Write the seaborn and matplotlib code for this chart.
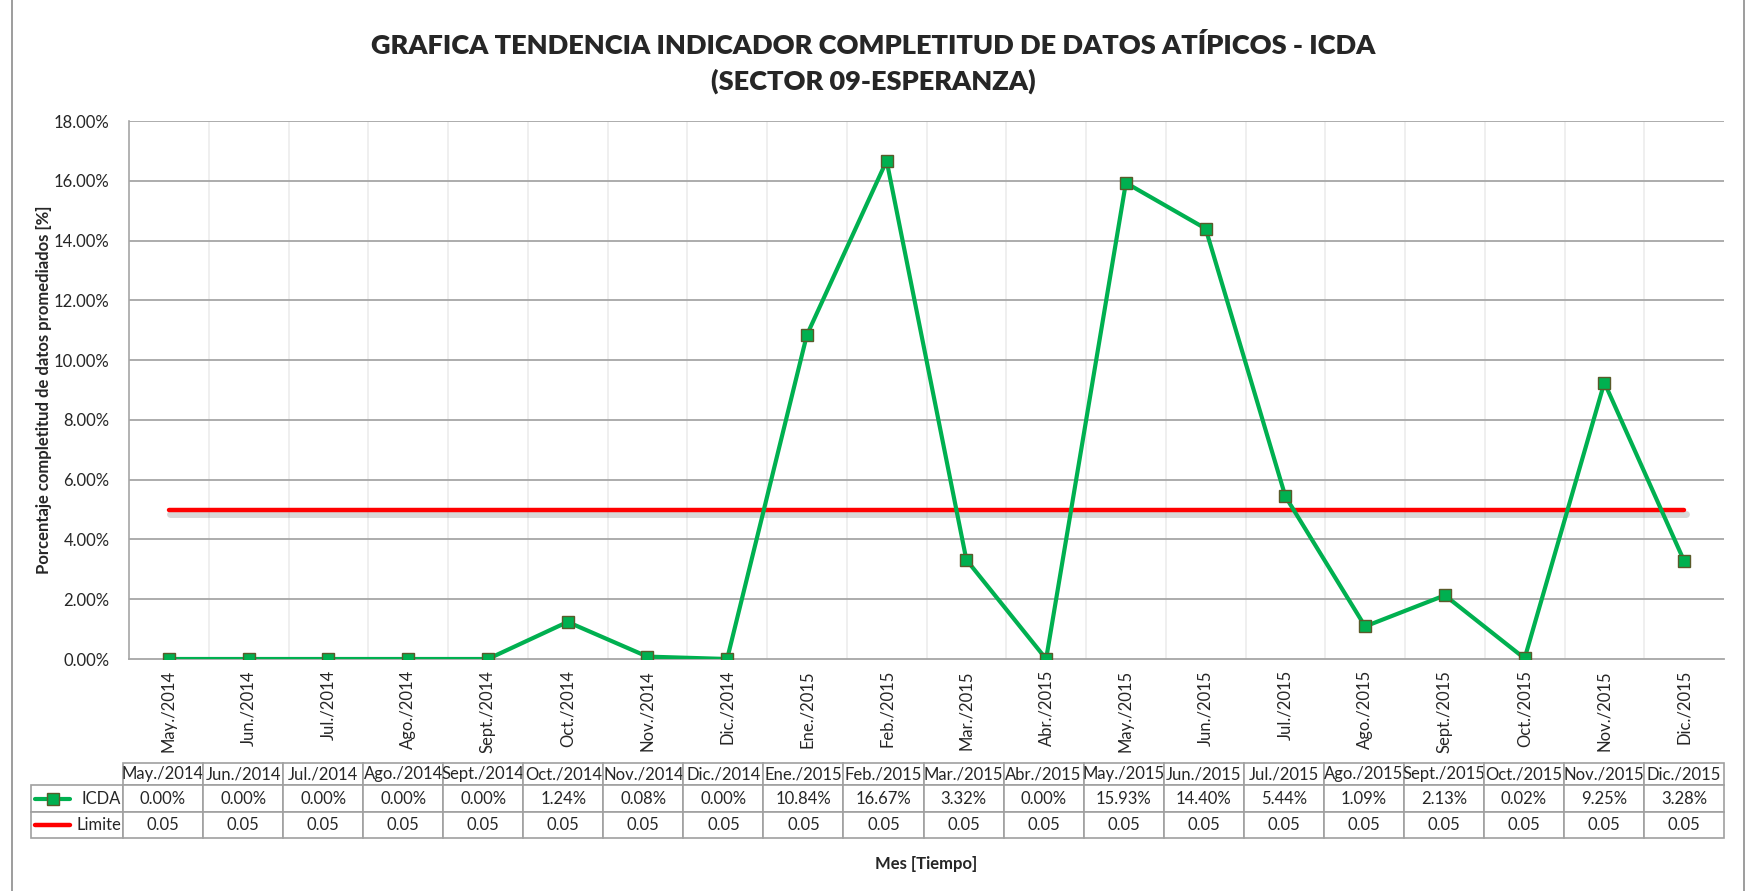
import numpy as np
import pandas as pd
import matplotlib.pyplot as plt
import seaborn as sns
from matplotlib import patheffects as pe
from matplotlib.lines import Line2D
from matplotlib.patches import Rectangle
from matplotlib.ticker import PercentFormatter

# Data
meses = ["May./2014", "Jun./2014", "Jul./2014", "Ago./2014", "Sept./2014", "Oct./2014",
         "Nov./2014", "Dic./2014", "Ene./2015", "Feb./2015", "Mar./2015", "Abr./2015",
         "May./2015", "Jun./2015", "Jul./2015", "Ago./2015", "Sept./2015", "Oct./2015",
         "Nov./2015", "Dic./2015"]
icda_pct = [0.00, 0.00, 0.00, 0.00, 0.00, 1.24, 0.08, 0.00, 10.84, 16.67, 3.32, 0.00,
            15.93, 14.40, 5.44, 1.09, 2.13, 0.02, 9.25, 3.28]
limite = [0.05] * 20

df = pd.DataFrame({
    "pos": np.arange(len(meses)),
    "mes": meses,
    "ICDA": np.array(icda_pct) / 100,
    "Limite": limite,
})

sns.set_style("white")
plt.rcParams["font.family"] = ["Lato", "DejaVu Sans"]

green = "#00b050"
red = "#ff0000"
grid_gray = "#a6a6a6"

fig = plt.figure(figsize=(17.46, 8.91), dpi=100)
ax = fig.add_axes([129 / 1746, 1 - 659 / 891, (1724 - 129) / 1746, (659 - 121) / 891])

sns.lineplot(data=df, x="pos", y="Limite", ax=ax, color=red, linewidth=3.2,
             path_effects=[pe.SimpleLineShadow(offset=(1, -3), shadow_color="gray", alpha=0.3,
                                               linewidth=5),
                           pe.Normal()], zorder=3)
sns.lineplot(data=df, x="pos", y="ICDA", ax=ax, color=green, linewidth=3.0,
             marker="s", markersize=8.5, markerfacecolor=green, markeredgecolor="#5a5a2a",
             markeredgewidth=1.0, zorder=4)

ax.set_xlim(-0.5, len(meses) - 0.5)
ax.set_ylim(0, 0.18)
ax.set_yticks(np.arange(0, 0.181, 0.02))
ax.yaxis.set_major_formatter(PercentFormatter(xmax=1, decimals=2))
ax.set_xticks(df["pos"])
ax.set_xticklabels(meses, rotation=90, fontsize=12)
ax.tick_params(axis="y", labelsize=12, pad=14, length=0)
ax.tick_params(axis="x", pad=8, length=0)

# grid: horizontal major, vertical at category boundaries
for y in np.arange(0.02, 0.181, 0.02):
    ax.axhline(y, color=grid_gray, linewidth=1.3, zorder=1)
for xb in np.arange(0.5, len(meses) - 0.5, 1):
    ax.axvline(xb, color="#ececec", linewidth=1.2, zorder=0)

for side in ["top", "right"]:
    ax.spines[side].set_visible(False)
ax.spines["left"].set_color(grid_gray)
ax.spines["bottom"].set_color(grid_gray)
ax.spines["left"].set_linewidth(1.2)
ax.spines["bottom"].set_linewidth(1.3)

ax.set_xlabel("")
ax.set_ylabel("Porcentaje completitud de datos promediados [%]", fontsize=12,
              fontweight="bold", labelpad=1)

# title
fig.text(0.5, 1 - 45 / 891, "GRAFICA TENDENCIA INDICADOR COMPLETITUD DE DATOS ATÍPICOS - ICDA",
         ha="center", va="center", fontsize=19.5, fontweight="heavy")
fig.text(0.5, 1 - 81 / 891, "(SECTOR 09-ESPERANZA)",
         ha="center", va="center", fontsize=19.5, fontweight="heavy")

# data table
tx0, tx1 = 31, 1724
ty0, ty1 = 763, 838
tax = fig.add_axes([tx0 / 1746, 1 - ty1 / 891, (tx1 - tx0) / 1746, (ty1 - ty0) / 891])
tax.axis("off")
rows = [[""] + meses,
        ["ICDA"] + [f"{v:.2f}%" for v in icda_pct],
        ["Limite"] + [f"{v:.2f}" for v in limite]]
first_w = 92 / (tx1 - tx0)
col_w = (1 - first_w) / len(meses)
tbl = tax.table(cellText=rows, colWidths=[first_w] + [col_w] * len(meses),
                cellLoc="center", bbox=[0, 0, 1, 1])
tbl.auto_set_font_size(False)
heights = [22 / 75, 27 / 75, 26 / 75]
for (r, c), cell in tbl.get_celld().items():
    cell.set_edgecolor("#a0a0a0")
    cell.set_linewidth(1.2)
    cell.set_height(heights[r])
    cell.get_text().set_fontsize(12)
    if c == 0:
        cell.get_text().set_ha("right")
        cell._loc = "right"
        cell.PAD = 0.02
    if r == 0 and c == 0:
        cell.visible_edges = ""

# legend glyphs in the row label cells
y_icda = 1 - (22 + 13.5) / 75
y_lim = 1 - (22 + 27 + 13) / 75
gx0 = (35 - tx0) / (tx1 - tx0)
gx1 = (70 - tx0) / (tx1 - tx0)
tax.add_line(Line2D([gx0, gx1], [y_icda, y_icda], color=green, linewidth=3.0,
                    transform=tax.transAxes))
tax.add_line(Line2D([(gx0 + gx1) / 2], [y_icda], marker="s", markersize=8.5, color=green,
                    markeredgecolor="#5a5a2a", markeredgewidth=1.0, transform=tax.transAxes))
tax.add_line(Line2D([gx0, gx1], [y_lim, y_lim], color=red, linewidth=3.2,
                    transform=tax.transAxes))

fig.text((129 + 1724) / 2 / 1746, 1 - 864 / 891, "Mes [Tiempo]", ha="center", va="center",
         fontsize=12, fontweight="bold")

# chart area border
fig.add_artist(Rectangle((12 / 1746, -0.01), (1744 - 12) / 1746, 1.02, transform=fig.transFigure,
                         fill=False, edgecolor="#8c8c8c", linewidth=1.2))

fig.savefig("out.png", dpi=100)
